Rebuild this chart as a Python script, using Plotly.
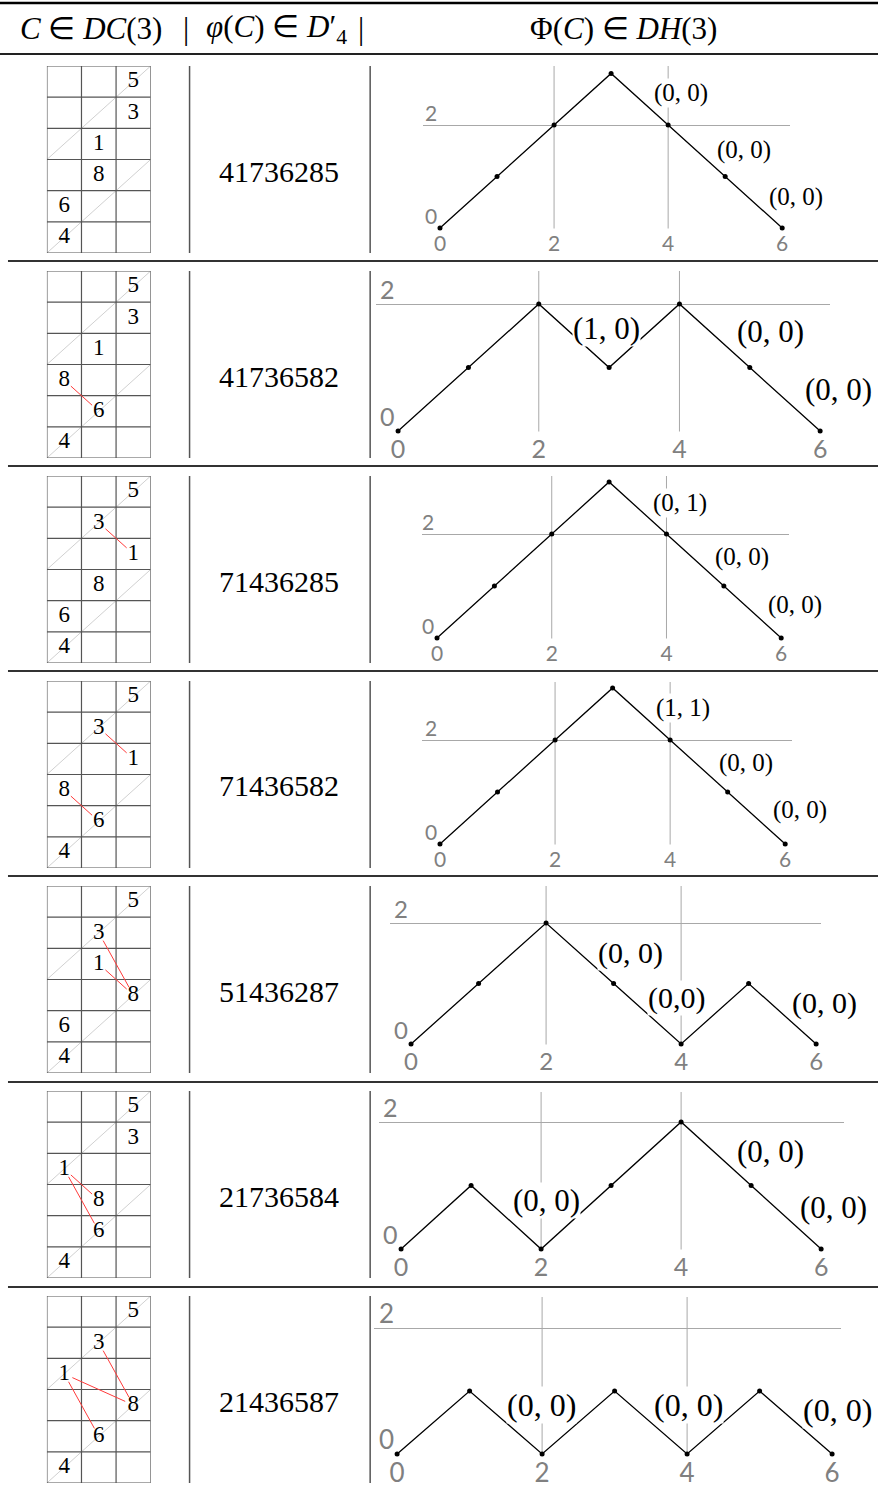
import plotly.graph_objects as go

W, H = 880, 1490

# ---- data ----
perms = ["41736285", "41736582", "71436285", "71436582",
         "51436287", "21736584", "21436587"]

# tableau entries per row: (value, column, row-from-top)
tableaux = [
    [(5, 2, 0), (3, 2, 1), (1, 1, 2), (8, 1, 3), (6, 0, 4), (4, 0, 5)],
    [(5, 2, 0), (3, 2, 1), (1, 1, 2), (8, 0, 3), (6, 1, 4), (4, 0, 5)],
    [(5, 2, 0), (3, 1, 1), (1, 2, 2), (8, 1, 3), (6, 0, 4), (4, 0, 5)],
    [(5, 2, 0), (3, 1, 1), (1, 2, 2), (8, 0, 3), (6, 1, 4), (4, 0, 5)],
    [(5, 2, 0), (3, 1, 1), (1, 1, 2), (8, 2, 3), (6, 0, 4), (4, 0, 5)],
    [(5, 2, 0), (3, 2, 1), (1, 0, 2), (8, 1, 3), (6, 1, 4), (4, 0, 5)],
    [(5, 2, 0), (3, 1, 1), (1, 0, 2), (8, 2, 3), (6, 1, 4), (4, 0, 5)],
]

# red links between entries
links = [
    [],
    [(8, 6)],
    [(3, 1)],
    [(3, 1), (8, 6)],
    [(3, 8), (1, 8)],
    [(1, 8), (1, 6)],
    [(3, 8), (1, 8), (1, 6)],
]

steps = [0, 1, 2, 3, 4, 5, 6]
paths = [
    [0, 1, 2, 3, 2, 1, 0],
    [0, 1, 2, 1, 2, 1, 0],
    [0, 1, 2, 3, 2, 1, 0],
    [0, 1, 2, 3, 2, 1, 0],
    [0, 1, 2, 1, 0, 1, 0],
    [0, 1, 0, 1, 2, 1, 0],
    [0, 1, 0, 1, 0, 1, 0],
]

pair_labels = [
    ["(0, 0)", "(0, 0)", "(0, 0)"],
    ["(1, 0)", "(0, 0)", "(0, 0)"],
    ["(0, 1)", "(0, 0)", "(0, 0)"],
    ["(1, 1)", "(0, 0)", "(0, 0)"],
    ["(0, 0)", "(0,0)", "(0, 0)"],
    ["(0, 0)", "(0, 0)", "(0, 0)"],
    ["(0, 0)", "(0, 0)", "(0, 0)"],
]
# label anchor in path coordinates
pair_pos = [
    [(4.23, 2.62), (5.33, 1.51), (6.24, 0.60)],
    [(2.96, 1.62), (5.30, 1.56), (6.26, 0.65)],
    [(4.24, 2.59), (5.32, 1.56), (6.24, 0.63)],
    [(4.23, 2.62), (5.32, 1.56), (6.26, 0.65)],
    [(3.25, 1.50), (3.93, 0.76), (6.13, 0.68)],
    [(2.08, 0.77), (5.28, 1.53), (6.17, 0.66)],
    [(1.99, 0.78), (4.02, 0.78), (6.08, 0.70)],
]

xticks = [0, 2, 4, 6]
yticks = [0, 2]

# ---- layout geometry (pixels) ----
row_tops = [56, 261, 466, 671, 876, 1081, 1286]
rules = [261, 466, 671, 876, 1082, 1287]
# x0, x6, y0, y2, left, right, top of each path panel
panel = [
    (441, 784, 228, 125, 424, 792, 66),
    (399, 822, 431, 304, 377, 832, 271),
    (438, 783, 638, 534, 423, 791, 476),
    (441, 787, 844, 740, 423, 794, 682),
    (412, 818, 1044, 923, 391, 823, 886),
    (402, 823, 1249, 1122, 380, 846, 1092),
    (398, 834, 1454, 1328, 375, 843, 1297),
]
TAB_L, TAB_R, TAB_H = 47, 151, 187
SERIF = "Liberation Serif"
SANS = "Lato"
GRAY = "#808080"


def px(x):
    return x / W


def py(y):
    return 1 - y / H


fig = go.Figure()
layout = {}
shapes = []
annotations = []

for i in range(7):
    rt = row_tops[i]
    ka, kb = 2 * i + 1, 2 * i + 2
    xa, ya = f"x{ka}", f"y{ka}"
    xb, yb = f"x{kb}", f"y{kb}"
    sa = "" if ka == 1 else str(ka)

    # --- tableau ---
    ttop = rt + 10
    layout["xaxis" + sa] = dict(domain=[px(TAB_L), px(TAB_R)], range=[0, 3],
                                visible=False, anchor=ya)
    layout["yaxis" + sa] = dict(domain=[py(ttop + TAB_H), py(ttop)], range=[6, 0],
                                visible=False, anchor=xa)
    gx, gy = [], []
    for c in range(4):
        gx += [c, c, None]
        gy += [0, 6, None]
    for r in range(7):
        gx += [0, 3, None]
        gy += [r, r, None]
    fig.add_trace(go.Scatter(x=[0, 3, None, 0, 3], y=[3, 0, None, 6, 3], mode="lines",
                             line=dict(color="#c4c4c4", width=0.8), xaxis=xa, yaxis=ya,
                             hoverinfo="skip"))
    fig.add_trace(go.Scatter(x=gx, y=gy, mode="lines", line=dict(color="#555555", width=1.2),
                             xaxis=xa, yaxis=ya, hoverinfo="skip"))
    cell_w = (TAB_R - TAB_L) / 3
    cell_h = TAB_H / 6
    pos = {v: (c + 0.5, r + 0.5) for v, c, r in tableaux[i]}
    lx, ly = [], []
    for a, b in links[i]:
        (ax_, ay_), (bx_, by_) = pos[a], pos[b]
        dxp, dyp = (bx_ - ax_) * cell_w, (by_ - ay_) * cell_h
        L = (dxp ** 2 + dyp ** 2) ** 0.5
        t = 9 / L
        lx += [ax_ + (bx_ - ax_) * t, bx_ - (bx_ - ax_) * t, None]
        ly += [ay_ + (by_ - ay_) * t, by_ - (by_ - ay_) * t, None]
    if lx:
        fig.add_trace(go.Scatter(x=lx, y=ly, mode="lines", line=dict(color="#ff3b3b", width=1),
                                 xaxis=xa, yaxis=ya, hoverinfo="skip"))
    fig.add_trace(go.Scatter(x=[pos[v][0] for v, _, _ in tableaux[i]],
                             y=[pos[v][1] for v, _, _ in tableaux[i]],
                             text=[str(v) for v, _, _ in tableaux[i]], mode="text",
                             textfont=dict(family=SERIF, size=23, color="black"),
                             xaxis=xa, yaxis=ya, hoverinfo="skip"))

    # --- permutation ---
    annotations.append(dict(x=px(280), y=py(rt + 115), xref="paper", yref="paper",
                            xanchor="center", yanchor="middle",
                            text=perms[i], showarrow=False,
                            font=dict(family=SERIF, size=30, color="black")))

    # --- column separators ---
    for sx in (190, 371):
        shapes.append(dict(type="line", xref="paper", yref="paper", x0=px(sx), x1=px(sx),
                           y0=py(rt + 10), y1=py(rt + 197),
                           line=dict(color="#555555", width=1.5)))

    # --- path panel ---
    x0, x6, y0, y2, left, right, top = panel[i]
    dx = (x6 - x0) / 6
    dy = (y0 - y2) / 2
    tick_size = round(0.36 * dx)
    layout["xaxis" + str(kb)] = dict(
        domain=[px(left), px(right)], range=[(left - x0) / dx, (right - x0) / dx],
        tickvals=xticks, ticktext=[str(v) for v in xticks], showgrid=False,
        zeroline=False, showline=False, ticks="", anchor=yb,
        tickfont=dict(family=SANS, size=tick_size, color=GRAY))
    layout["yaxis" + str(kb)] = dict(
        domain=[py(y0 + 0.5), py(top)], range=[-0.5 / dy, (y0 - top) / dy],
        tickvals=yticks, showgrid=True, gridcolor="#a8a8a8", gridwidth=1,
        showticklabels=False, zeroline=False, showline=False, anchor=xb)
    for gxv in (2, 4):
        shapes.append(dict(type="line", xref=xb, yref=yb + " domain", x0=gxv, x1=gxv,
                           y0=0, y1=1, line=dict(color="#a8a8a8", width=1), layer="below"))
    for v in yticks:
        annotations.append(dict(x=-0.15, y=v + 0.24, xref=xb, yref=yb, text=str(v),
                                xanchor="center", yanchor="middle", showarrow=False,
                                font=dict(family=SANS, size=tick_size, color=GRAY)))
    fig.add_trace(go.Scatter(x=steps, y=paths[i], mode="lines+markers",
                             line=dict(color="black", width=1.3),
                             marker=dict(color="black", size=5), cliponaxis=False,
                             xaxis=xb, yaxis=yb, hoverinfo="skip"))
    for lab, (lxv, lyv) in zip(pair_labels[i], pair_pos[i]):
        annotations.append(dict(x=px(x0 + lxv * dx), y=py(y0 - lyv * dy),
                                xref="paper", yref="paper", text=lab, showarrow=False,
                                xanchor="center", yanchor="middle",
                                bgcolor="white", borderpad=0,
                                font=dict(family=SERIF, size=round(0.44 * dx), color="black")))

# ---- table rules ----
shapes.append(dict(type="line", xref="paper", yref="paper", x0=0, x1=1, y0=py(3), y1=py(3),
                   line=dict(color="black", width=2.5)))
shapes.append(dict(type="line", xref="paper", yref="paper", x0=0, x1=1, y0=py(54), y1=py(54),
                   line=dict(color="#222222", width=2)))
for ry in rules:
    shapes.append(dict(type="line", xref="paper", yref="paper", x0=px(8), x1=1,
                       y0=py(ry), y1=py(ry), line=dict(color="#333333", width=2)))

# ---- header ----
header = [
    (91, "<i>C</i> ∈ <i>DC</i>(3)"),
    (186, "|"),
    (277, "<i>φ</i>(<i>C</i>) ∈ <i>D</i>′<sub>4</sub>"),
    (362, "|"),
    (625, "Φ(<i>C</i>) ∈ <i>DH</i>(3)"),
]
for hx, txt in header:
    annotations.append(dict(x=px(hx), y=py(29), xref="paper", yref="paper", text=txt,
                            xanchor="center", yanchor="middle",
                            showarrow=False, font=dict(family=SERIF, size=31, color="black")))

fig.update_layout(width=W, height=H, margin=dict(l=0, r=0, t=0, b=0),
                  paper_bgcolor="white", plot_bgcolor="rgba(0,0,0,0)",
                  showlegend=False, shapes=shapes, annotations=annotations, **layout)
fig.write_html("out.html", config={"displayModeBar": False},
               post_script="document.body.style.margin='0';")
